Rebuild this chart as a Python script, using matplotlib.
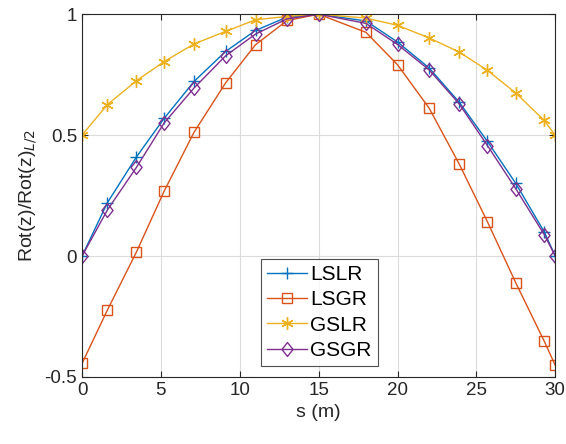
import matplotlib
matplotlib.use("Agg")
import matplotlib.pyplot as plt
from matplotlib.path import Path
from matplotlib.ticker import FuncFormatter

plt.rcParams['font.family'] = ['Liberation Sans', 'DejaVu Sans']

# positions along the span (m)
s = [0, 1.6, 3.45, 5.2, 7.1, 9.1, 11, 13, 15, 18, 20, 22, 23.9, 25.7, 27.5, 29.3, 30]

lslr = [0.0, 0.22, 0.41, 0.569, 0.722, 0.846, 0.933, 0.988, 1.0, 0.972,
        0.885, 0.778, 0.637, 0.474, 0.30, 0.10, 0.0]
lsgr = [-0.444, -0.224, 0.017, 0.268, 0.512, 0.716, 0.874, 0.974, 1.0, 0.925,
        0.791, 0.612, 0.382, 0.142, -0.111, -0.352, -0.452]
gslr = [0.5, 0.626, 0.725, 0.804, 0.877, 0.929, 0.977, 0.991, 1.0, 0.984,
        0.954, 0.902, 0.844, 0.768, 0.674, 0.561, 0.499]
gsgr = [0.0, 0.19, 0.367, 0.55, 0.695, 0.828, 0.918, 0.981, 1.0, 0.962,
        0.875, 0.77, 0.63, 0.457, 0.278, 0.089, 0.0]

# MATLAB-like diamond (a bit taller than wide)
diamond = Path([(0, 1), (0.8, 0), (0, -1), (-0.8, 0), (0, 1)],
               [Path.MOVETO, Path.LINETO, Path.LINETO, Path.LINETO, Path.CLOSEPOLY])

fig = plt.figure(figsize=(5.66, 4.44), dpi=100)
ax = fig.add_axes([0.145, 0.151, 0.836, 0.817])

ax.plot(s, lslr, color='#0072BD', marker='+', ms=9, mew=1.0, lw=1.0, label='LSLR')
ax.plot(s, lsgr, color='#D95319', marker='s', ms=7, mfc='none', mew=1.0, lw=1.0, label='LSGR')
ax.plot(s, gslr, color='#EDB120', marker=(6, 2, 0), ms=9, mew=1.0, lw=1.0, label='GSLR')
ax.plot(s, gsgr, color='#7E2F8E', marker=diamond, ms=10, mfc='none', mew=1.0, lw=1.0, label='GSGR')

ax.set_xlim(0, 30)
ax.set_ylim(-0.5, 1)
ax.set_xticks([0, 5, 10, 15, 20, 25, 30])
ax.set_yticks([-0.5, 0, 0.5, 1])
ax.yaxis.set_major_formatter(FuncFormatter(lambda v, p: f'{v:g}'))
ax.grid(True, color='#dcdcdc', lw=0.8)
ax.tick_params(direction='in', labelsize=13.5, length=4, top=True, right=True, colors='#262626')
for sp in ax.spines.values():
    sp.set_color('#262626')
    sp.set_linewidth(0.8)

ax.set_xlabel('s (m)', fontsize=14, color='#262626')
ax.set_ylabel('Rot(z)/Rot(z)$_{L/2}$', fontsize=14, color='#262626')

leg = ax.legend(loc='lower left', bbox_to_anchor=(0.378, 0.03), fontsize=15,
                frameon=True, fancybox=False, edgecolor='#262626', borderaxespad=0,
                handlelength=1.9, handletextpad=0.15, labelspacing=0.3, borderpad=0.3)
leg.get_frame().set_linewidth(0.8)

fig.savefig('out.png', dpi=100)
